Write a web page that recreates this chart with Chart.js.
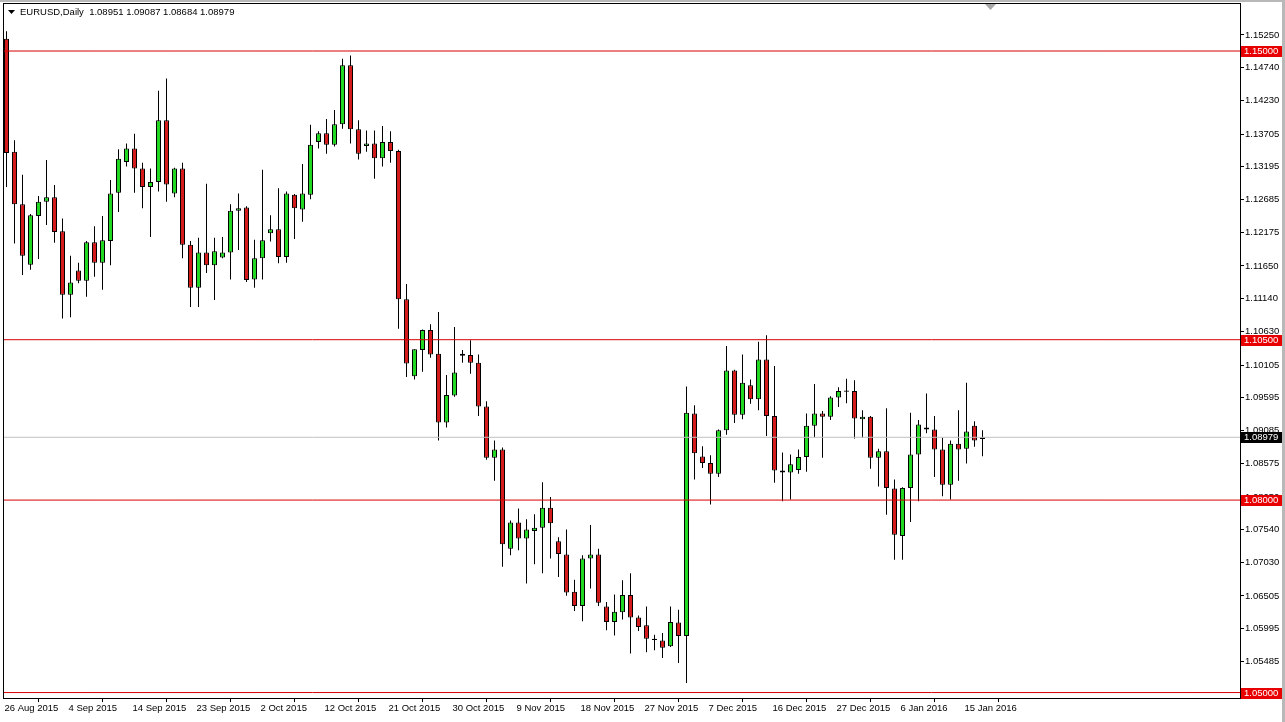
<!DOCTYPE html>
<html>
<head>
<meta charset="utf-8">
<script src="https://cdn.jsdelivr.net/npm/chart.js@4.4.0/dist/chart.umd.min.js"></script>
<style>
  html, body { margin: 0; padding: 0; background: #fff; overflow: hidden; }
  canvas { display: block; }
</style>
</head>
<body>
<canvas id="chart" width="1285" height="722"></canvas>
<script>
/* EURUSD daily candles, 26 Aug 2015 -> 18 Jan 2016 (MT4 style, incl. Sunday bars) */
const opens = [
  1.1519, 1.1343, 1.1261, 1.1167, 1.1243, 1.1265, 1.1272, 1.1219, 1.1120, 1.1158,
  1.1142, 1.1202, 1.1170, 1.1204, 1.1279, 1.1327, 1.1348, 1.1317, 1.1288, 1.1296,
  1.1392, 1.1278, 1.1317, 1.1198, 1.1131, 1.1186, 1.1166, 1.1178, 1.1186, 1.1251,
  1.1256, 1.1144, 1.1177, 1.1216, 1.1222, 1.1179, 1.1276, 1.1253, 1.1276, 1.1358,
  1.1372, 1.1354, 1.1386, 1.1478, 1.1378, 1.1352, 1.1356, 1.1333, 1.1358, 1.1344,
  1.1113, 1.0993, 1.1034, 1.1065, 1.1028, 1.0921, 1.0963, 1.1028, 1.1026, 1.1014,
  1.0946, 1.0866, 1.0879, 1.0724, 1.0765, 1.0740, 1.0752, 1.0757, 1.0788, 1.0736,
  1.0715, 1.0657, 1.0635, 1.0709, 1.0715, 1.0634, 1.0610, 1.0625, 1.0652, 1.0617,
  1.0605, 1.0584, 1.0581, 1.0572, 1.0609, 1.0588, 1.0935, 1.0868, 1.0858, 1.0841,
  1.0909, 1.1002, 1.0933, 1.0979, 1.0957, 1.1019, 1.0931, 1.0846, 1.0843, 1.0847,
  1.0867, 1.0916, 1.0935, 1.0930, 1.0960, 1.0971, 1.0970, 1.0926, 1.0930, 1.0866,
  1.0876, 1.0818, 1.0744, 1.0819, 1.0871, 1.0913, 1.0910, 1.0879, 1.0824, 1.0888,
  1.0880, 1.0916, 1.08951
];
const highs = [
  1.1531, 1.1361, 1.1307, 1.1246, 1.1274, 1.1330, 1.1291, 1.1239, 1.1181, 1.1170,
  1.1204, 1.1227, 1.1243, 1.1299, 1.1347, 1.1356, 1.1371, 1.1326, 1.1317, 1.1438,
  1.1457, 1.1318, 1.1326, 1.1204, 1.1209, 1.1293, 1.1209, 1.1210, 1.1261, 1.1278,
  1.1258, 1.1206, 1.1315, 1.1244, 1.1286, 1.1281, 1.1277, 1.1324, 1.1385, 1.1375,
  1.1394, 1.1408, 1.1488, 1.1493, 1.1392, 1.1376, 1.1376, 1.1383, 1.1375, 1.1346,
  1.1137, 1.1035, 1.1066, 1.1074, 1.1093, 1.0995, 1.1070, 1.1034, 1.1049, 1.1027,
  1.0954, 1.0893, 1.0882, 1.0768, 1.0787, 1.0770, 1.0778, 1.0828, 1.0805, 1.0742,
  1.0754, 1.0676, 1.0714, 1.0761, 1.0724, 1.0641, 1.0653, 1.0675, 1.0686, 1.0620,
  1.0634, 1.0590, 1.0593, 1.0634, 1.0629, 1.0977, 1.0948, 1.0884, 1.0870, 1.0910,
  1.1040, 1.1003, 1.1027, 1.0988, 1.1047, 1.1057, 1.1009, 1.0874, 1.0871, 1.0879,
  1.0935, 1.0981, 1.0939, 1.0962, 1.0976, 1.0989, 1.0987, 1.0940, 1.0931, 1.0880,
  1.0943, 1.0832, 1.0820, 1.0936, 1.0925, 1.0966, 1.0931, 1.0897, 1.0893, 1.0940,
  1.0983, 1.0923, 1.09087
];
const lows = [
  1.1288, 1.1200, 1.1151, 1.1159, 1.1176, 1.1229, 1.1201, 1.1083, 1.1085, 1.1138,
  1.1117, 1.1148, 1.1128, 1.1166, 1.1249, 1.1320, 1.1279, 1.1255, 1.1210, 1.1281,
  1.1265, 1.1272, 1.1177, 1.1101, 1.1101, 1.1154, 1.1112, 1.1177, 1.1144, 1.1190,
  1.1140, 1.1131, 1.1144, 1.1203, 1.1169, 1.1170, 1.1207, 1.1234, 1.1269, 1.1348,
  1.1340, 1.1351, 1.1379, 1.1356, 1.1331, 1.1343, 1.1301, 1.1320, 1.1326, 1.1067,
  1.0992, 1.0988, 1.1000, 1.1022, 1.0893, 1.0913, 1.0961, 1.1014, 1.0997, 1.0931,
  1.0863, 1.0830, 1.0696, 1.0714, 1.0722, 1.0670, 1.0700, 1.0686, 1.0709, 1.0680,
  1.0651, 1.0627, 1.0611, 1.0662, 1.0635, 1.0597, 1.0589, 1.0614, 1.0561, 1.0596,
  1.0563, 1.0566, 1.0554, 1.0571, 1.0546, 1.0515, 1.0832, 1.0850, 1.0793, 1.0836,
  1.0902, 1.0920, 1.0926, 1.0950, 1.0940, 1.0900, 1.0827, 1.0798, 1.0801, 1.0841,
  1.0844, 1.0898, 1.0866, 1.0925, 1.0945, 1.0951, 1.0896, 1.0897, 1.0849, 1.0821,
  1.0777, 1.0707, 1.0707, 1.0766, 1.0798, 1.0904, 1.0836, 1.0806, 1.0801, 1.0830,
  1.0857, 1.0883, 1.08684
];
const closes = [
  1.1341, 1.1261, 1.1181, 1.1244, 1.1265, 1.1272, 1.1218, 1.1120, 1.1139, 1.1142,
  1.1202, 1.1170, 1.1205, 1.1278, 1.1332, 1.1348, 1.1317, 1.1288, 1.1296, 1.1392,
  1.1292, 1.1317, 1.1198, 1.1131, 1.1186, 1.1166, 1.1188, 1.1186, 1.1251, 1.1255,
  1.1143, 1.1177, 1.1205, 1.1222, 1.1179, 1.1278, 1.1255, 1.1278, 1.1354, 1.1372,
  1.1354, 1.1386, 1.1478, 1.1378, 1.1340, 1.1356, 1.1333, 1.1358, 1.1344, 1.1113,
  1.1013, 1.1035, 1.1065, 1.1027, 1.0921, 1.0964, 1.0999, 1.1025, 1.1014, 1.0946,
  1.0866, 1.0879, 1.0731, 1.0765, 1.0740, 1.0754, 1.0757, 1.0788, 1.0764, 1.0716,
  1.0656, 1.0635, 1.0709, 1.0715, 1.0640, 1.0610, 1.0626, 1.0652, 1.0617, 1.0602,
  1.0584, 1.0582, 1.0570, 1.0610, 1.0588, 1.0936, 1.0873, 1.0858, 1.0841, 1.0909,
  1.1002, 1.0933, 1.0983, 1.0957, 1.1019, 1.0931, 1.0846, 1.0843, 1.0856, 1.0867,
  1.0916, 1.0935, 1.0930, 1.0960, 1.0970, 1.0969, 1.0927, 1.0930, 1.0866, 1.0876,
  1.0819, 1.0746, 1.0819, 1.0871, 1.0918, 1.0910, 1.0879, 1.0824, 1.0888, 1.0879,
  1.0907, 1.0893, 1.08979
];

const dateTickIdx = [0, 8, 16, 24, 32, 40, 48, 56, 64, 72, 80, 88, 96, 104, 112, 120];
const dateTickLabels = ['26 Aug 2015', '4 Sep 2015', '14 Sep 2015', '23 Sep 2015', '2 Oct 2015',
  '12 Oct 2015', '21 Oct 2015', '30 Oct 2015', '9 Nov 2015', '18 Nov 2015', '27 Nov 2015',
  '7 Dec 2015', '16 Dec 2015', '27 Dec 2015', '6 Jan 2016', '15 Jan 2016'];
const priceTicks = [1.15250, 1.14740, 1.14230, 1.13705, 1.13195, 1.12685, 1.12175, 1.11650,
  1.11140, 1.10630, 1.10105, 1.09595, 1.09085, 1.08575, 1.08050, 1.07540, 1.07030, 1.06505,
  1.05995, 1.05485];
const levels = [1.15000, 1.10500, 1.08000, 1.05000];
const lastPrice = 1.08979;
const titleText = 'EURUSD,Daily  1.08951 1.09087 1.08684 1.08979';

const FONT = "'Liberation Sans', Arial, sans-serif";
const BULL = '#22d822', BEAR = '#d41a1a', LEVEL = '#d80000';

/* ── datasets ── */
const idx = opens.map((_, i) => i);
const bodies = idx.map(i => ({ x: i, y: [opens[i], closes[i]] }));
const wicks = idx.map(i => ({ x: i, y: [lows[i], highs[i]] }));
const bodyColors = idx.map(i => closes[i] >= opens[i] ? BULL : BEAR);

const levelSets = levels.map(v => ({
  type: 'line',
  data: [{ x: -5, y: v }, { x: 300, y: v }],
  borderColor: LEVEL, borderWidth: 1, pointRadius: 0, order: 0
}));
levelSets.push({
  type: 'line',
  data: [{ x: -5, y: lastPrice }, { x: 300, y: lastPrice }],
  borderColor: '#c0c0c0', borderWidth: 1, pointRadius: 0, order: 0
});

/* ── plugin: frame, title, axis price boxes ── */
const mtDecor = {
  id: 'mtDecor',
  beforeDraw(chart) {
    const c = chart.ctx;
    c.save();
    c.fillStyle = '#fff';
    c.fillRect(0, 0, chart.width, chart.height);
    c.fillStyle = '#b8b8b8';
    c.fillRect(0, 0, chart.width, 2);
    c.fillRect(chart.width - 3, 0, 3, chart.height);
    c.restore();
  },
  afterDraw(chart) {
    const c = chart.ctx, a = chart.chartArea, y = chart.scales.y;
    c.save();
    // chart frame
    c.strokeStyle = '#000';
    c.lineWidth = 1;
    c.strokeRect(a.left - 0.5, a.top - 0.5, a.right - a.left + 1, a.bottom - a.top + 1);

    // price boxes on the axis
    c.font = '9.5px ' + FONT;
    c.textBaseline = 'middle';
    c.textAlign = 'left';
    const box = (v, bg) => {
      const py = Math.round(y.getPixelForValue(v));
      c.fillStyle = bg;
      c.fillRect(a.right + 1, py - 5, 41, 11);
      c.fillStyle = '#fff';
      c.fillText(v.toFixed(5), a.right + 4, py + 0.5);
    };
    levels.forEach(v => box(v, '#e80000'));
    box(lastPrice, '#000');

    // title
    c.fillStyle = '#000';
    c.beginPath();
    c.moveTo(8, 10); c.lineTo(15, 10); c.lineTo(11.5, 14); c.closePath();
    c.fill();
    c.font = '9.5px ' + FONT;
    c.fillText(titleText, 20, 12.5);

    // chart shift marker
    c.fillStyle = '#a8a8a8';
    c.beginPath();
    c.moveTo(985, a.top); c.lineTo(996, a.top); c.lineTo(990.5, a.top + 6); c.closePath();
    c.fill();
    c.restore();
  }
};

new Chart(document.getElementById('chart'), {
  type: 'bar',
  data: {
    datasets: [
      {
        data: bodies, backgroundColor: bodyColors, borderColor: '#000', borderWidth: 1,
        borderSkipped: false, barThickness: 5, grouped: false, inflateAmount: 0, order: 1
      },
      {
        data: wicks, backgroundColor: '#000', borderWidth: 0,
        barThickness: 1, grouped: false, inflateAmount: 0, order: 2
      },
      ...levelSets
    ]
  },
  options: {
    responsive: false,
    animation: false,
    devicePixelRatio: 1,
    layout: { padding: { left: 4, top: 4, right: 0, bottom: 0 } },
    plugins: { legend: { display: false }, tooltip: { enabled: false } },
    scales: {
      x: {
        type: 'linear',
        min: -0.3125,
        max: 154.1875,
        offset: false,
        border: { display: false },
        grid: { drawOnChartArea: false, drawTicks: true, tickLength: 4, color: '#000' },
        ticks: {
          autoSkip: false, maxRotation: 0, align: 'start', padding: 1, labelOffset: -2,
          color: '#000', font: { family: FONT, size: 9.5 },
          callback: (v, i) => dateTickLabels[i]
        },
        afterBuildTicks: s => { s.ticks = dateTickIdx.map(v => ({ value: v })); },
        afterFit: s => { s.height = 24; s.paddingLeft = 0; s.paddingRight = 0; }
      },
      y: {
        position: 'right',
        min: 1.04915,
        max: 1.15733,
        border: { display: false },
        grid: { drawOnChartArea: false, drawTicks: true, tickLength: 4, color: '#000' },
        ticks: {
          padding: 1, color: '#000', font: { family: FONT, size: 9.5 },
          callback: v => v.toFixed(5)
        },
        afterBuildTicks: s => { s.ticks = priceTicks.map(v => ({ value: v })); },
        afterFit: s => { s.width = 45; s.paddingTop = 0; s.paddingBottom = 0; }
      }
    }
  },
  plugins: [mtDecor]
});
</script>
</body>
</html>
